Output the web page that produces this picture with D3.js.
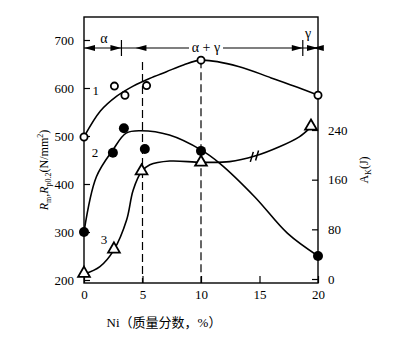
<!DOCTYPE html>
<html><head><meta charset="utf-8">
<script src="https://cdn.jsdelivr.net/npm/d3@7"></script>
<style>body{margin:0;background:#fff} svg{display:block} text{font-family:"Liberation Serif","Times New Roman","Noto Sans CJK SC",serif;fill:#000}</style>
</head><body>
<svg id="chart" width="410" height="340"></svg>
<script>
// Axis ticks
const niTicks = [0, 5, 10, 15, 20];
const strengthTicks = [200, 300, 400, 500, 600, 700];
const energyTicks = [0, 80, 160, 240];

// Curve 1: tensile strength Rm (hollow circles)
const rmNi  = [0, 2.6, 3.5, 5.35, 10, 20];
const rmVal = [498, 604, 585, 605, 658, 585];
const rmFitNi  = [0, 1.4, 2.8, 4.2, 5.6, 7.05, 8.5, 10, 13.2, 16, 18.3, 20];
const rmFitVal = [498, 552, 583, 604, 620, 634, 648, 658, 645, 621, 601, 585];

// Curve 2: yield strength Rp0.2 (filled circles)
const rpNi  = [0, 2.47, 3.41, 5.2, 10, 20];
const rpVal = [300, 465, 516, 473, 469, 250];
const rpFitNi  = [0, 1.06, 2.47, 3.6, 4.8, 7.3, 10, 11.6, 14.6, 17.4, 20];
const rpFitVal = [300, 415, 471, 506, 511, 502, 471, 443, 373, 297, 250];

// Curve 3: impact energy AK (triangles, right axis)
const akNi  = [0, 2.56, 4.92, 10, 19.4];
const akVal = [9, 48, 174, 188, 246];
const akFitNi  = [0, 1.36, 2.56, 3.64, 4.2, 4.92, 5.63, 7.33, 10, 12.45, 14.6, 16.7, 18.4, 19.3];
const akFitVal = [8, 20, 47, 95, 143, 173, 184, 190, 188, 189, 198, 213, 229, 243];

// Phase regions along the top
const phaseBounds = [0, 3.2, 18.7, 20];
const phaseNames = ["α", "α + γ", "γ"];

const svg = d3.select("#chart");
const serif = "Liberation Serif, Times New Roman, Noto Sans CJK SC, serif";

const x = d3.scaleLinear().domain([0, 20]).range([84, 318]);
const yL = d3.scaleLinear().domain([200, 700]).range([280, 40]);
const yR = d3.scaleLinear().domain([0, 240]).range([279, 130]);
const plotTop = 17, plotBottom = 283;

// Frame
svg.append("rect").attr("x", x(0)).attr("y", plotTop)
  .attr("width", x(20) - x(0)).attr("height", plotBottom - plotTop)
  .attr("fill", "none").attr("stroke", "#000").attr("stroke-width", 1.4);

// Axes with inward ticks
const axB = svg.append("g").attr("transform", `translate(0,${plotBottom})`)
  .call(d3.axisBottom(x).tickValues(niTicks).tickSize(-7).tickPadding(10));
const axL = svg.append("g").attr("transform", `translate(${x(0)},0)`)
  .call(d3.axisLeft(yL).tickValues(strengthTicks).tickSize(-6).tickPadding(10));
const axR = svg.append("g").attr("transform", `translate(${x(20)},0)`)
  .call(d3.axisRight(yR).tickValues(energyTicks).tickSize(-6).tickPadding(10));
[axB, axL, axR].forEach(g => {
  g.attr("font-family", null);
  g.select(".domain").remove();
  g.selectAll("line").attr("stroke", "#000").attr("stroke-width", 1.2);
  g.selectAll("text").style("font-family", serif).attr("font-size", 13).attr("fill", "#000");
});
axB.selectAll("text").attr("dy", "0.45em");

// Dashed guides at 5 % and 10 % Ni
[[5, 605], [10, 658]].forEach(([n, v]) => {
  svg.append("line").attr("x1", x(n)).attr("x2", x(n))
    .attr("y1", n === 5 ? 62 : yL(v)).attr("y2", plotBottom)
    .attr("stroke", "#000").attr("stroke-width", 1.2).attr("stroke-dasharray", "8,4");
});

// Fitted curves
const line = (xs, ys, sy) => d3.line().curve(d3.curveCatmullRom.alpha(0.5))
  .x((d, i) => x(xs[i])).y((d, i) => sy(ys[i]))(xs);
[[rmFitNi, rmFitVal, yL], [rpFitNi, rpFitVal, yL], [akFitNi, akFitVal, yR]].forEach(([a, b, s]) => {
  svg.append("path").attr("d", line(a, b, s)).attr("fill", "none")
    .attr("stroke", "#000").attr("stroke-width", 1.6);
});

// Break marks on curve 3
[14.3, 14.75].forEach(n => {
  const i = d3.bisectLeft(akFitNi, n);
  const v = akFitVal[i - 1] + (akFitVal[i] - akFitVal[i - 1]) * (n - akFitNi[i - 1]) / (akFitNi[i] - akFitNi[i - 1]);
  svg.append("line").attr("x1", x(n) + 2).attr("y1", yR(v) - 5)
    .attr("x2", x(n) - 1).attr("y2", yR(v) + 5)
    .attr("stroke", "#000").attr("stroke-width", 1.5);
});

// Markers
rmNi.forEach((n, i) => svg.append("circle").attr("cx", x(n)).attr("cy", yL(rmVal[i])).attr("r", 3.6)
  .attr("fill", "#fff").attr("stroke", "#000").attr("stroke-width", 1.8));
rpNi.forEach((n, i) => svg.append("circle").attr("cx", x(n)).attr("cy", yL(rpVal[i])).attr("r", 5)
  .attr("fill", "#000"));
const tri = d3.symbol().type(d3.symbolTriangle).size(60);
akNi.forEach((n, i) => svg.append("path").attr("d", tri())
  .attr("transform", `translate(${x(n)},${yR(akVal[i])})`)
  .attr("fill", "#fff").attr("stroke", "#000").attr("stroke-width", 1.8));

// Curve numbers
[["1", 1.0, 594], ["2", 0.94, 465], ["3", 1.7, 285]].forEach(([t, n, v]) => {
  svg.append("text").attr("x", x(n)).attr("y", yL(v)).attr("dy", "0.35em")
    .attr("text-anchor", "middle").style("font-family", serif).attr("font-size", 13).text(t);
});

// Phase band with arrows
const bandY = 48;
const arrow = (tip, dir) => {
  const L = 11, W = 3;
  svg.append("path").attr("d", `M${tip},${bandY}L${tip - dir * L},${bandY - W}L${tip - dir * L},${bandY + W}Z`)
    .attr("fill", "#000");
};
svg.append("line").attr("x1", x(0)).attr("x2", 189).attr("y1", bandY).attr("y2", bandY)
  .attr("stroke", "#000").attr("stroke-width", 1.1);
svg.append("line").attr("x1", 223).attr("x2", x(20)).attr("y1", bandY).attr("y2", bandY)
  .attr("stroke", "#000").attr("stroke-width", 1.1);
arrow(x(phaseBounds[0]), -1);
arrow(x(phaseBounds[1]), 1);
arrow(x(phaseBounds[1]) + 14, -1);
arrow(x(phaseBounds[2]), 1);
arrow(x(phaseBounds[2]) + 10, -1);
arrow(x(phaseBounds[3]), 1);
[phaseBounds[1], phaseBounds[2]].forEach(n => {
  svg.append("line").attr("x1", x(n)).attr("x2", x(n)).attr("y1", bandY - 8).attr("y2", bandY + 8)
    .attr("stroke", "#000").attr("stroke-width", 1.2);
});
const phaseX = [104, 206, 308], phaseY = [38, 47, 33];
phaseNames.forEach((t, i) => {
  svg.append("text").attr("x", phaseX[i]).attr("y", phaseY[i]).attr("dy", "0.35em")
    .attr("text-anchor", "middle").style("font-family", serif).attr("font-size", 14).text(t);
});

// Axis titles
svg.append("text").attr("x", 164).attr("y", 322).attr("text-anchor", "middle")
  .style("font-family", serif).attr("font-size", 13).attr("dy", "0.35em")
  .text("Ni（质量分数，%）");

const yTitle = svg.append("text").attr("transform", "translate(48,170) rotate(-90)")
  .attr("text-anchor", "middle").style("font-family", serif).attr("font-size", 12);
yTitle.append("tspan").attr("font-style", "italic").text("R");
yTitle.append("tspan").attr("font-size", 8).attr("dy", 3).text("m");
yTitle.append("tspan").attr("dy", -3).text(",");
yTitle.append("tspan").attr("font-style", "italic").text("R");
yTitle.append("tspan").attr("font-size", 8).attr("dy", 3).text("p0.2");
yTitle.append("tspan").attr("dy", -3).text("(N/mm");
yTitle.append("tspan").attr("font-size", 8).attr("dy", -5).text("2");
yTitle.append("tspan").attr("dy", 5).text(")");

const rTitle = svg.append("text").attr("transform", "translate(368,170) rotate(-90)")
  .attr("text-anchor", "middle").style("font-family", serif).attr("font-size", 12);
rTitle.append("tspan").text("A");
rTitle.append("tspan").attr("font-size", 8).attr("dy", 3).text("K");
rTitle.append("tspan").attr("dy", -3).text("(J)");
</script>
</body></html>
